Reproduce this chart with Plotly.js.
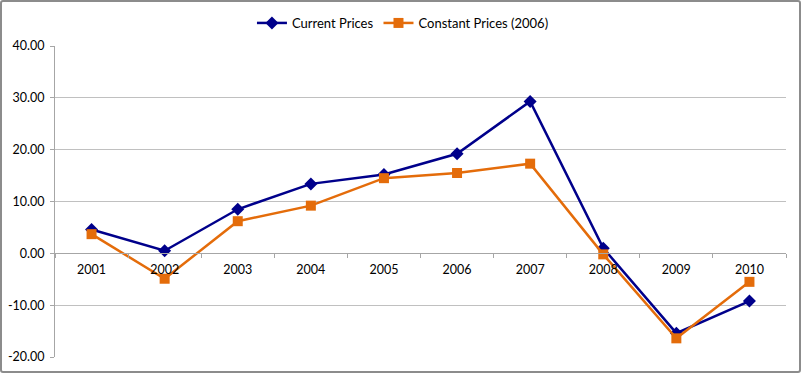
<!DOCTYPE html>
<html>
<head>
<meta charset="utf-8">
<script src="https://cdn.plot.ly/plotly-3.0.1.min.js"></script>
<style>
html,body{margin:0;padding:0;background:#fff;}
#wrap{position:relative;width:801px;height:373px;}
#chart{width:801px;height:373px;}
#frame{position:absolute;left:0;top:0;width:801px;height:373px;box-sizing:border-box;border:2px solid #8c8c8c;border-radius:3px;pointer-events:none;}
</style>
</head>
<body>
<div id="wrap"><div id="chart"></div><div id="frame"></div></div>
<script>
const years = ["2001","2002","2003","2004","2005","2006","2007","2008","2009","2010"];
const currentPrices = [4.6, 0.5, 8.5, 13.4, 15.2, 19.2, 29.3, 1.0, -15.4, -9.2];
const constantPrices = [3.7, -4.9, 6.2, 9.2, 14.5, 15.5, 17.3, -0.2, -16.4, -5.5];
const yTicks = [-20, -10, 0, 10, 20, 30, 40];
const yTickText = yTicks.map(v => v.toFixed(2));

const font = "Lato, 'Open Sans', sans-serif";

const traces = [
  {x: years, y: currentPrices, name: "Current Prices", type: "scatter", mode: "lines+markers",
   line: {color: "#00008b", width: 2.5},
   marker: {symbol: "diamond", size: 10, color: "#00008b"}},
  {x: years, y: constantPrices, name: "Constant Prices (2006)", type: "scatter", mode: "lines+markers",
   line: {color: "#e46c0a", width: 2.5},
   marker: {symbol: "square", size: 10, color: "#e46c0a"}}
];

const layout = {
  width: 801, height: 373,
  margin: {l: 55, r: 15, t: 46, b: 16, autoexpand: false},
  paper_bgcolor: "#fff", plot_bgcolor: "#fff",
  font: {family: font, size: 12, color: "#000"},
  showlegend: true,
  legend: {orientation: "h", x: 0.476, xanchor: "center", y: 1.074, yanchor: "middle",
           font: {family: font, size: 13, color: "#000"}, itemwidth: 30,
           traceorder: "normal"},
  xaxis: {type: "category", anchor: "free", position: 1/3, showgrid: false,
          showline: true, linecolor: "#a6a6a6", linewidth: 1,
          ticks: "outside", tickson: "boundaries", ticklen: 4, tickcolor: "#a6a6a6",
          ticklabelstandoff: 5,
          tickfont: {family: font, size: 12.5, color: "#000"}, zeroline: false,
          range: [-0.5, 9.5], fixedrange: true, automargin: false},
  yaxis: {range: [-20, 40], tickvals: yTicks, ticktext: yTickText,
          showgrid: true, gridcolor: "#c0c0c0", gridwidth: 1,
          showline: true, linecolor: "#a6a6a6", linewidth: 1,
          ticks: "outside", ticklen: 4, tickcolor: "#a6a6a6", ticklabelstandoff: 3,
          zeroline: false, automargin: false, tickfont: {family: font, size: 12.5, color: "#000"}}
};

Plotly.newPlot("chart", traces, layout, {displayModeBar: false, staticPlot: true});
</script>
</body>
</html>
